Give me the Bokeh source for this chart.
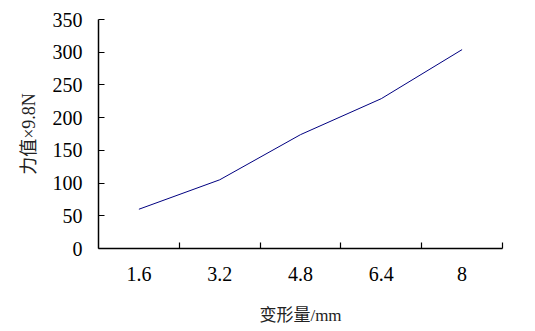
from bokeh.plotting import figure
from bokeh.models import Range1d, LinearAxis, FixedTicker
from bokeh.embed import file_html
from bokeh.resources import INLINE

categories = ["1.6", "3.2", "4.8", "6.4", "8"]
force = [60, 105, 174, 229, 304]
y_ticks = [0, 50, 100, 150, 200, 250, 300, 350]

xs = [i + 0.5 for i in range(len(categories))]
bounds = [i + 1 for i in range(len(categories))]

p = figure(width=535, height=331, output_backend="svg", toolbar_location=None,
           x_range=Range1d(0, len(categories)), y_range=Range1d(0, 350),
           x_axis_type=None, y_axis_type=None,
           min_border_left=98, min_border_right=33, min_border_top=19, min_border_bottom=83)
p.outline_line_color = None
p.xgrid.visible = False
p.ygrid.visible = False
p.background_fill_color = "white"
p.border_fill_color = "white"

num_font = "Liberation Serif, Noto Sans CJK SC"
lab_font = "Liberation Serif, Noto Sans CJK SC"

xaxis = LinearAxis(ticker=FixedTicker(ticks=xs, minor_ticks=bounds),
                   major_label_overrides={x: c for x, c in zip(xs, categories)},
                   axis_label="变形量/mm")
xaxis.major_tick_line_color = None
xaxis.minor_tick_in = 6
xaxis.minor_tick_out = 0
xaxis.minor_tick_line_color = "black"
xaxis.axis_line_color = "black"
xaxis.axis_line_width = 1.5
xaxis.minor_tick_line_width = 1.2
xaxis.major_label_text_font = num_font
xaxis.major_label_text_font_size = "20px"
xaxis.major_label_text_color = "black"
xaxis.major_label_standoff = 12
xaxis.axis_label_text_font = lab_font
xaxis.axis_label_text_font_size = "17px"
xaxis.axis_label_text_font_style = "normal"
xaxis.axis_label_text_color = "#222222"
xaxis.axis_label_standoff = 22
p.add_layout(xaxis, "below")

yaxis = LinearAxis(ticker=FixedTicker(ticks=y_ticks, minor_ticks=[]),
                   axis_label="力值×9.8N")
yaxis.major_tick_in = 6
yaxis.major_tick_out = 0
yaxis.major_tick_line_width = 1.2
yaxis.axis_line_width = 1.5
yaxis.axis_line_color = "black"
yaxis.major_tick_line_color = "black"
yaxis.major_label_text_font = num_font
yaxis.major_label_text_font_size = "20px"
yaxis.major_label_text_color = "black"
yaxis.major_label_standoff = 16
yaxis.axis_label_text_font = lab_font
yaxis.axis_label_text_font_size = "18px"
yaxis.axis_label_text_font_style = "normal"
yaxis.axis_label_text_color = "#222222"
yaxis.axis_label_standoff = 11
p.add_layout(yaxis, "left")

p.line(xs, force, line_color="#000080", line_width=1)

open("out.html", "w").write(file_html(p, INLINE))
